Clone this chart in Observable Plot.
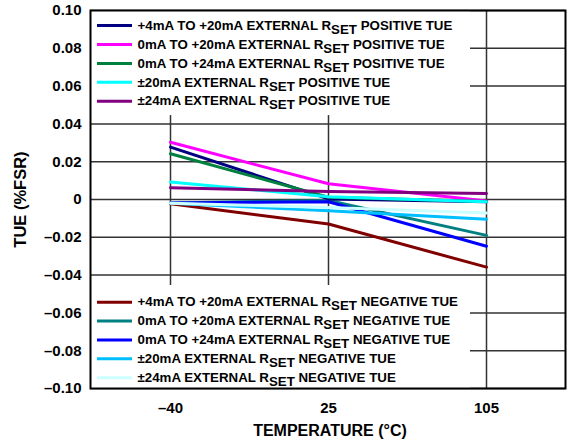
<!DOCTYPE html>
<html><head><meta charset="utf-8">
<script src="https://cdn.jsdelivr.net/npm/d3@7"></script>
<script src="https://cdn.jsdelivr.net/npm/@observablehq/plot@0.6"></script>
<style>
body{margin:0;background:#fff;}
#chart svg{font-family:"Liberation Sans",Arial,sans-serif;}
</style>
</head><body><div id="chart"></div>
<script>
// ---- data ----
const temperatures = ["-40", "25", "105"];
const xTickLabels = ["–40", "25", "105"];
const yTicks = [0.10, 0.08, 0.06, 0.04, 0.02, 0, -0.02, -0.04, -0.06, -0.08, -0.10];
const yTickLabels = ["0.10", "0.08", "0.06", "0.04", "0.02", "0", "–0.02", "–0.04", "–0.06", "–0.08", "–0.10"];

const positiveNames = [
  "+4mA TO +20mA EXTERNAL R_SET POSITIVE TUE",
  "0mA TO +20mA EXTERNAL R_SET POSITIVE TUE",
  "0mA TO +24mA EXTERNAL R_SET POSITIVE TUE",
  "±20mA EXTERNAL R_SET POSITIVE TUE",
  "±24mA EXTERNAL R_SET POSITIVE TUE"
];
const negativeNames = [
  "+4mA TO +20mA EXTERNAL R_SET NEGATIVE TUE",
  "0mA TO +20mA EXTERNAL R_SET NEGATIVE TUE",
  "0mA TO +24mA EXTERNAL R_SET NEGATIVE TUE",
  "±20mA EXTERNAL R_SET NEGATIVE TUE",
  "±24mA EXTERNAL R_SET NEGATIVE TUE"
];
const pos4to20 = [0.0277, 0.0003, -0.0012];
const pos0to20 = [0.0303, 0.0083, -0.0008];
const pos0to24 = [0.0242, 0.0012, -0.0010];
const posPm20  = [0.0092, 0.0015, -0.0012];
const posPm24  = [0.0062, 0.0042, 0.0032];
const neg4to20 = [-0.0022, -0.0130, -0.0358];
const neg0to20 = [-0.0018, -0.0005, -0.0190];
const neg0to24 = [-0.0018, -0.0012, -0.0247];
const negPm20  = [-0.0020, -0.0060, -0.0105];
const negPm24  = [-0.0020, -0.0042, -0.0072];

const positiveValues = [pos4to20, pos0to20, pos0to24, posPm20, posPm24];
const negativeValues = [neg4to20, neg0to20, neg0to24, negPm20, negPm24];
const positiveColors = ["#000080", "#ff00ff", "#00803f", "#00ffff", "#800080"];
const negativeColors = ["#800000", "#008080", "#0000ff", "#00bfff", "#ccffff"];

// ---- build table ----
const allNames = [...positiveNames, ...negativeNames];
const allValues = [...positiveValues, ...negativeValues];
const allColors = [...positiveColors, ...negativeColors];
const rows = [];
allNames.forEach((name, s) => {
  temperatures.forEach((t, i) => rows.push({series: name, temp: t, tue: allValues[s][i]}));
});
const colorOf = new Map(allNames.map((n, i) => [n, allColors[i]]));

// legend layout (in y data units)
const legendTop = positiveNames.map((n, i) => ({name: n, y: 0.092 - i * 0.01, color: positiveColors[i]}));
const legendBottom = negativeNames.map((n, i) => ({name: n, y: -0.0543 - i * 0.01, color: negativeColors[i]}));
const legendRows = [...legendTop, ...legendBottom];

const gridColor = "#333";

const chart = Plot.plot({
  width: 568,
  height: 448,
  marginLeft: 90,
  marginRight: 3,
  marginTop: 10,
  marginBottom: 60,
  style: {fontSize: "15px", fontWeight: "bold", background: "#fff"},
  x: {type: "point", domain: temperatures, padding: 0.5, label: null},
  y: {domain: [-0.10, 0.10], label: null},
  marks: [
    Plot.ruleY(yTicks, {stroke: gridColor, strokeWidth: 1.5}),
    Plot.ruleX(temperatures, {stroke: gridColor, strokeWidth: 1.5}),
    Plot.rect([0], {y1: 0.10, y2: 0.0444, fill: "white", insetRight: 95}),
    Plot.rect([0], {y1: -0.0455, y2: -0.10, fill: "white", insetRight: 95}),
    Plot.frame({stroke: "black", strokeWidth: 2}),
    Plot.line(rows.filter(d => negativeNames.includes(d.series)), {
      x: "temp", y: "tue", z: "series", stroke: d => colorOf.get(d.series), strokeWidth: 3
    }),
    Plot.line(rows.filter(d => positiveNames.includes(d.series)), {
      x: "temp", y: "tue", z: "series", stroke: d => colorOf.get(d.series), strokeWidth: 3
    }),
    Plot.ruleY(legendRows, {y: "y", stroke: "color", strokeWidth: 3, insetLeft: 7, insetRight: 433}),
    Plot.text(legendRows, {y: "y", text: "name", frameAnchor: "left", dx: 47, textAnchor: "start",
      fontSize: 13.3, fontWeight: "bold", fill: "black"}),
    Plot.axisY({ticks: yTicks, tickSize: 0, tickPadding: 9,
      tickFormat: d => yTickLabels[yTicks.findIndex(t => Math.abs(t - d) < 1e-9)],
      label: "TUE (%FSR)", labelAnchor: "center", labelOffset: 76, labelArrow: "none"}),
    Plot.axisX({tickSize: 0, tickPadding: 14,
      tickFormat: d => xTickLabels[temperatures.indexOf(d)], label: null}),
    Plot.text(["TEMPERATURE (°C)"], {frameAnchor: "bottom", dx: 2, dy: 47, fontSize: 16, fontWeight: "bold"})
  ]
});

// subscript "SET" in legend labels; enlarge the y-axis title
d3.select(chart).selectAll("text").each(function() {
  const t = this.textContent;
  if (t.includes("_SET")) {
    const [a, b] = t.split("_SET");
    const sel = d3.select(this);
    sel.text(null);
    sel.append("tspan").text(a);
    sel.append("tspan").attr("dy", "0.3em").text("SET");
    sel.append("tspan").attr("dy", "-0.3em").text(b);
  } else if (t === "TUE (%FSR)") {
    d3.select(this).attr("font-size", 16.5);
  }
});

document.getElementById("chart").appendChild(chart);
</script>
</body></html>
